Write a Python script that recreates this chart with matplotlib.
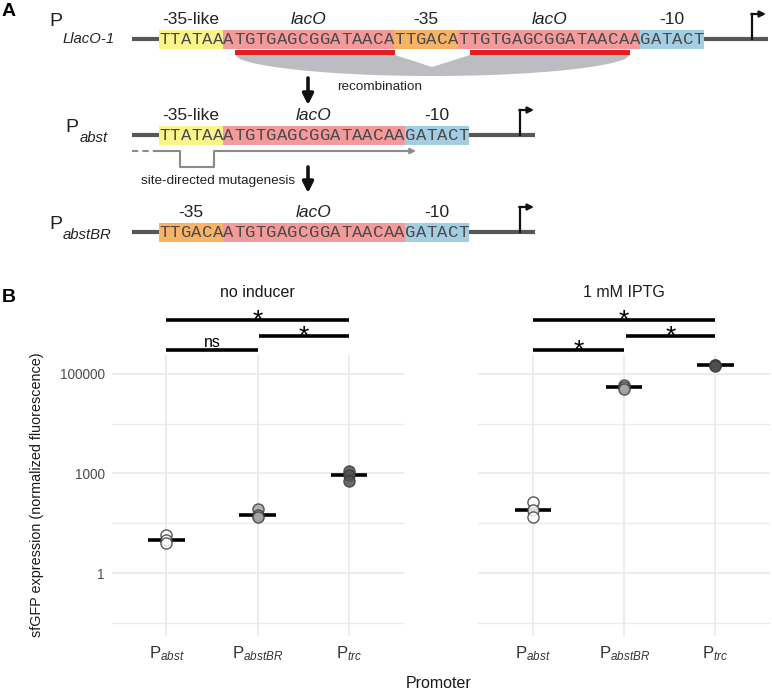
import numpy as np
import matplotlib
matplotlib.use("Agg")
import matplotlib.pyplot as plt
from matplotlib.patches import Rectangle, Polygon
import matplotlib.transforms as mtransforms

plt.rcParams["font.family"] = ["Liberation Sans", "DejaVu Sans"]
plt.rcParams["mathtext.fontset"] = "custom"
plt.rcParams["mathtext.rm"] = "Liberation Sans"
plt.rcParams["mathtext.it"] = "Liberation Sans:italic"

# ---- panel B data: sfGFP expression (normalized fluorescence), 3 replicates
promoters = ["abst", "abstBR", "trc"]
facets = ["no inducer", "1 mM IPTG"]
noind_abst = [14, 10, 8]
noind_abstbr = [85, 55, 50]
noind_trc = [1100, 880, 600]
iptg_abst = [135, 77, 50]
iptg_abstbr = [60000, 55000, 50000]
iptg_trc = [155000, 150000, 145000]
noind_signif = [(1, 3, "*"), (2, 3, "*"), (1, 2, "ns")]
iptg_signif = [(1, 3, "*"), (2, 3, "*"), (1, 2, "*")]
ytick_values = [1, 1000, 100000]
yminor_values = [10 ** -1.5, 10 ** 1.5, 10 ** 4]

# ---- panel A sequences (segment, element name)
seq_llaco1 = [("TTATAA", "-35-like"), ("ATGTGAGCGGATAACA", "lacO"), ("TTGACA", "-35"),
              ("TTGTGAGCGGATAACAA", "lacO"), ("GATACT", "-10")]
seq_abst = [("TTATAA", "-35-like"), ("ATGTGAGCGGATAACAA", "lacO"), ("GATACT", "-10")]
seq_abstbr = [("TTGACA", "-35"), ("ATGTGAGCGGATAACAA", "lacO"), ("GATACT", "-10")]

elem_colors = {"-35-like": "#faf48a", "lacO": "#f59a9a", "-35": "#f8b466", "-10": "#a3cde2"}
BACKBONE = "#575757"
X0 = 159.0
CW = 10.69
BOX_H = 19

fig = plt.figure(figsize=(7.72, 6.91), dpi=100)

# ---------------- panel A (drawn in pixel coordinates)
ax_a = fig.add_axes([0, 0, 1, 1])
ax_a.set_xlim(0, 772)
ax_a.set_ylim(691, 0)
ax_a.axis("off")


def draw_seq(ax, parts, y, line_end, tss_x):
    ax.plot([132, X0], [y, y], color=BACKBONE, lw=3, solid_capstyle="butt")
    x = X0
    for seq, name in parts:
        w = len(seq) * CW
        ax.add_patch(Rectangle((x, y - BOX_H / 2), w, BOX_H, fc=elem_colors[name], ec="none"))
        for i, c in enumerate(seq):
            ax.text(x + (i + 0.5) * CW, y + 0.5, c, family="Liberation Mono", size=12.4,
                    ha="center", va="center", color="#4a4a4a")
        ax.text(x + w / 2, y - 19.5, name, ha="center", va="center", size=12.5, color="#222",
                style="italic" if name == "lacO" else "normal")
        x += w
    ax.plot([x, line_end], [y, y], color=BACKBONE, lw=3, solid_capstyle="butt")
    # transcription start
    ax.plot([tss_x, tss_x], [y, y - 25], color="#111", lw=1.6)
    ax.annotate("", xy=(tss_x + 14, y - 25), xytext=(tss_x - 0.8, y - 25),
                arrowprops=dict(arrowstyle="-|>", color="#111", lw=1.6, mutation_scale=9,
                                shrinkA=0, shrinkB=0))


draw_seq(ax_a, seq_llaco1, 39, 768, 752)
draw_seq(ax_a, seq_abst, 135, 535, 520)
draw_seq(ax_a, seq_abstbr, 232, 535, 520)

# promoter names
ax_a.text(49, 21, "P", size=14, ha="left", va="center", color="#222")
ax_a.text(63, 39, "LlacO-1", size=10.7, style="italic", ha="left", va="center", color="#222")
ax_a.text(65, 127, "P", size=14, ha="left", va="center", color="#222")
ax_a.text(80, 138, "abst", size=10.7, style="italic", ha="left", va="center", color="#222")
ax_a.text(49, 224, "P", size=14, ha="left", va="center", color="#222")
ax_a.text(63, 235, "abstBR", size=10.7, style="italic", ha="left", va="center", color="#222")

# lacO repeats and recombination
ax_a.add_patch(Rectangle((235, 50), 160, 5, fc="#e31e24", ec="none"))
ax_a.add_patch(Rectangle((470, 50), 160, 5, fc="#e31e24", ec="none"))
xs = np.linspace(235, 630, 80)
t = (xs - 432.5) / 197.5
lower = 55 + 21 * np.clip(1 - t ** 2, 0, None) ** 0.55
upper = [(630, 55), (470, 55), (432, 67), (395, 55), (235, 55)]
ax_a.add_patch(Polygon(list(zip(xs, lower)) + upper, closed=True, fc="#bcbdc0", ec="none"))
ax_a.text(337, 87, "recombination", size=9.7, ha="left", va="center", color="#222")

ax_a.annotate("", xy=(308, 105), xytext=(308, 78),
              arrowprops=dict(arrowstyle="-|>", color="#111", lw=2.6, mutation_scale=16,
                              shrinkA=0, shrinkB=0))
ax_a.annotate("", xy=(308, 193), xytext=(308, 167),
              arrowprops=dict(arrowstyle="-|>", color="#111", lw=2.6, mutation_scale=16,
                              shrinkA=0, shrinkB=0))

# mutagenic primer
PRIMER = "#8a8a8a"
ax_a.plot([132, 159], [151, 151], color=PRIMER, lw=1.5, ls=(0, (3, 2)))
ax_a.plot([159, 180, 180, 214, 214, 405], [151, 151, 167, 167, 151, 151], color=PRIMER, lw=1.5)
ax_a.annotate("", xy=(416, 151), xytext=(404, 151),
              arrowprops=dict(arrowstyle="-|>", color=PRIMER, lw=1.5, mutation_scale=8,
                              shrinkA=0, shrinkB=0))
ax_a.text(141, 181, "site-directed mutagenesis", size=9.7, ha="left", va="center", color="#222")

fig.text(9 / 772, 1 - 12 / 691, "A", size=14, weight="bold", ha="center", va="center")
fig.text(9 / 772, 1 - 298 / 691, "B", size=14, weight="bold", ha="center", va="center")


# ---------------- panel B
def fwd(y):
    L = np.log10(np.clip(y, 1e-12, None))
    return np.where(L <= 3, L / 3, 1 + (L - 3) / 2)


def inv(u):
    u = np.asarray(u, dtype=float)
    return np.where(u <= 1, 10 ** (3 * u), 10 ** (3 + 2 * (u - 1)))


ax_l = fig.add_axes([0.1447, 0.0796, 0.378, 0.4067])
ax_r = fig.add_axes([0.6196, 0.0796, 0.378, 0.4067], sharey=ax_l)

panel_data = [
    (ax_l, facets[0], [noind_abst, noind_abstbr, noind_trc], noind_signif),
    (ax_r, facets[1], [iptg_abst, iptg_abstbr, iptg_trc], iptg_signif),
]
fills = ["#ffffff", "#a6a6a6", "#505050"]
xlabels = [r"P$_{\mathit{%s}}$" % p for p in promoters]

for ax, title, groups, signif in panel_data:
    ax.set_yscale("function", functions=(fwd, inv))
    for i, vals in enumerate(groups):
        xi = i + 1
        ax.hlines(np.median(vals), xi - 0.2, xi + 0.2, color="black", lw=2.6, zorder=2)
        ax.scatter(np.full(len(vals), xi), vals, s=64, facecolor=fills[i], edgecolor="#3c3c3c",
                   linewidth=1.0, alpha=0.85, zorder=3)
    ax.set_xlim(0.4, 3.6)
    ax.set_ylim(float(inv(-0.633)), float(inv(2.191)))
    ax.set_xticks([1, 2, 3])
    ax.set_xticklabels(xlabels, fontsize=12, color="#333")
    ax.set_yticks(ytick_values)
    ax.set_yticklabels([str(v) for v in ytick_values], fontsize=9.8, color="#4d4d4d")
    ax.set_yticks(yminor_values, minor=True)
    ax.yaxis.set_minor_formatter(plt.NullFormatter())
    ax.tick_params(which="both", length=0)
    ax.tick_params(axis="y", pad=5)
    ax.tick_params(axis="x", pad=6)
    ax.grid(which="major", color="#ebebeb", lw=1.3)
    ax.grid(which="minor", axis="y", color="#ebebeb", lw=1.0)
    ax.set_axisbelow(True)
    for s in ax.spines.values():
        s.set_visible(False)
    ax.text(0.5, 1.224, title, transform=ax.transAxes, ha="center", va="center", size=11.5,
            color="#1a1a1a")
    trans = mtransforms.blended_transform_factory(ax.transData, ax.transAxes)
    for (a, b, lab), yb in zip(signif, [1.123, 1.068, 1.017]):
        x_a = a + (0.02 if a == 2 else 0.0)
        ax.plot([x_a, b], [yb, yb], color="black", lw=2.6, transform=trans, clip_on=False,
                solid_capstyle="butt")
        if lab == "*":
            ax.annotate(lab, xy=((x_a + b) / 2, yb), xycoords=trans, xytext=(0, -5.5),
                        textcoords="offset points", ha="center", va="baseline", size=19)
        else:
            ax.annotate(lab, xy=((x_a + b) / 2, yb), xycoords=trans, xytext=(0, 2.5),
                        textcoords="offset points", ha="center", va="baseline", size=11.5)

plt.setp(ax_r.get_yticklabels(), visible=False)

fig.text(37 / 772, 1 - 495 / 691, "sfGFP expression (normalized fluorescence)", rotation=90,
         ha="center", va="center", size=10.4, color="#1a1a1a")
fig.text(439 / 772, 1 - 683 / 691, "Promoter", ha="center", va="center", size=11.5, color="#1a1a1a")

fig.savefig("out.png", dpi=100)
